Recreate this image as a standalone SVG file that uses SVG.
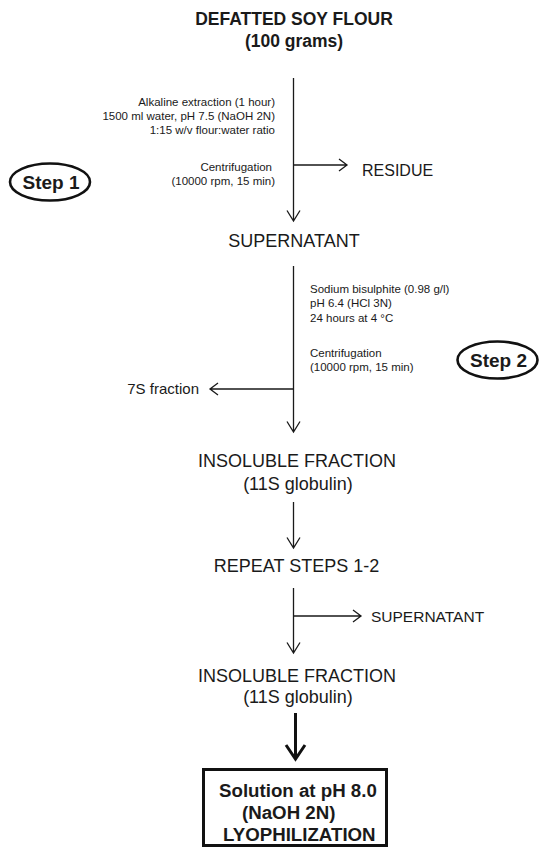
<svg xmlns="http://www.w3.org/2000/svg" width="539" height="848" viewBox="0 0 539 848">
<defs>
<style>
text{font-family:"Liberation Sans",Arial,Helvetica,sans-serif;fill:#1a1a1a}
.big{font-size:18px}
.bold{font-weight:bold}
.small{font-size:11.5px}
.mid{font-size:15.5px}
.box{font-size:18.7px;font-weight:bold}
.ln{stroke:#1a1a1a;stroke-width:1.3;fill:none}
.thick{stroke:#111;stroke-width:3;fill:none}
.ell{stroke:#111;stroke-width:2.6;fill:none}
</style>
</defs>
<rect width="539" height="848" fill="#fff"/>
<g id="title">
<text x="294" y="25" text-anchor="middle" class="bold" font-size="17.5">DEFATTED SOY FLOUR</text>
<text x="294" y="47" text-anchor="middle" class="bold" font-size="17.5">(100 grams)</text>
</g>
<g id="step1-notes" class="small">
<text x="275" y="106" text-anchor="end">Alkaline extraction (1 hour)</text>
<text x="275" y="120" text-anchor="end">1500 ml water, pH 7.5 (NaOH 2N)</text>
<text x="275" y="134" text-anchor="end">1:15 w/v flour:water ratio</text>
<text x="272" y="171" text-anchor="end">Centrifugation</text>
<text x="275" y="185" text-anchor="end">(10000 rpm, 15 min)</text>
</g>
<g id="step1">
<ellipse class="ell" cx="50" cy="182" rx="40" ry="18.5"/>
<text x="51" y="189" text-anchor="middle" class="bold" font-size="19">Step 1</text>
</g>
<g id="residue"><text x="362" y="176" font-size="16">RESIDUE</text></g>
<g id="supernatant1"><text x="294" y="247" text-anchor="middle" class="big">SUPERNATANT</text></g>
<g id="step2-notes" class="small">
<text x="310" y="293">Sodium bisulphite (0.98 g/l)</text>
<text x="310" y="307">pH 6.4 (HCl 3N)</text>
<text x="310" y="322">24 hours at 4 °C</text>
<text x="310" y="357">Centrifugation</text>
<text x="310" y="371">(10000 rpm, 15 min)</text>
</g>
<g id="step2">
<ellipse class="ell" cx="497.5" cy="360" rx="40" ry="18.5"/>
<text x="498.5" y="367" text-anchor="middle" class="bold" font-size="19">Step 2</text>
</g>
<g id="fraction7s"><text x="199" y="394" text-anchor="end" font-size="15">7S fraction</text></g>
<g id="insoluble1">
<text x="297" y="467" text-anchor="middle" class="big">INSOLUBLE FRACTION</text>
<text x="298" y="490" text-anchor="middle" class="big">(11S globulin)</text>
</g>
<g id="repeat"><text x="296.5" y="572" text-anchor="middle" class="big">REPEAT STEPS 1-2</text></g>
<g id="supernatant2"><text x="371" y="622" class="mid">SUPERNATANT</text></g>
<g id="insoluble2">
<text x="297" y="682" text-anchor="middle" class="big">INSOLUBLE FRACTION</text>
<text x="298" y="703" text-anchor="middle" class="big">(11S globulin)</text>
</g>
<g id="final">
<rect class="thick" x="203.5" y="769.5" width="183" height="76"/>
<text x="219" y="797" class="box">Solution at pH 8.0</text>
<text x="242" y="819" class="box">(NaOH 2N)</text>
<text x="223" y="841" class="box">LYOPHILIZATION</text>
</g>
<g id="connectors">
<path class="ln" d="M293.5 78V221M287 210.5L293.5 221L300 210.5"/>
<path class="ln" d="M293.5 165H347M339 159L347 165L339 171"/>
<path class="ln" d="M293.5 266V432M287 421.5L293.5 432L300 421.5"/>
<path class="ln" d="M293.5 389H210M218 383L210 389L218 395"/>
<path class="ln" d="M293.5 502V548M287 537.5L293.5 548L300 537.5"/>
<path class="ln" d="M293.5 588V653M287 642.5L293.5 653L300 642.5"/>
<path class="ln" d="M293.5 616H361M353 610L361 616L353 622"/>
<path class="thick" d="M295.5 713V759M286 745L295.5 759L305 745"/>
</g>
</svg>
